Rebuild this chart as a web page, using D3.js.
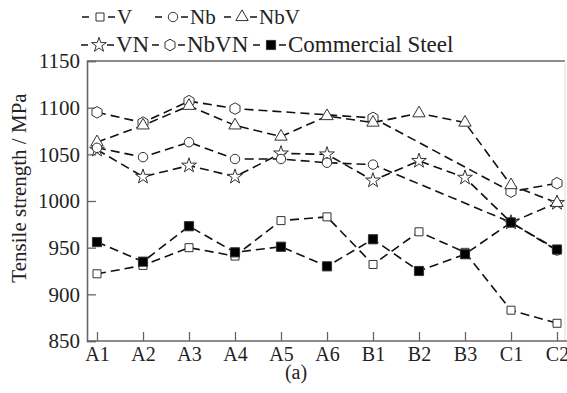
<!DOCTYPE html>
<html lang="en">
<head>
<meta charset="UTF-8">
<title>Tensile strength</title>
<script src="https://d3js.org/d3.v7.min.js"></script>
<style>
    body { margin: 0; background: #fff; }
    svg { display: block; font-family: "Liberation Serif", "DejaVu Serif", serif; }
</style>
</head>
<body>
<script>
// data
var categories = ["A1", "A2", "A3", "A4", "A5", "A6", "B1", "B2", "B3", "C1", "C2"];
var yTicks = [850, 900, 950, 1000, 1050, 1100, 1150];

var vValues      = [922, 931, 950, 941, 979, 983, 932, 967, 945, 883, 869];
var nbValues     = [1057, 1047, 1063, 1045, 1045, 1041, 1039, null, null, 977, 947];
var nbvValues    = [1063, 1081, 1102, 1081, 1069, 1091, 1084, 1094, 1084, 1017, 998];
var vnValues     = [1055, 1026, 1038, 1026, 1051, 1050, 1022, 1043, 1025, 977, 998];
var nbvnValues   = [1095, 1084, 1107, 1099, null, null, 1089, null, null, 1010, 1019];
var steelValues  = [956, 935, 973, 945, 951, 930, 959, 925, 943, 977, 948];

var series = [
    {name: "V", marker: "square", values: vValues},
    {name: "Nb", marker: "circle", values: nbValues},
    {name: "NbV", marker: "triangle", values: nbvValues},
    {name: "VN", marker: "star", values: vnValues},
    {name: "NbVN", marker: "hexagon", values: nbvnValues},
    {name: "Commercial Steel", marker: "filled", values: steelValues}
];
// order the markers are stacked in (last on top)
var drawOrder = ["VN", "NbVN", "NbV", "Nb", "V", "Commercial Steel"];

var W = 567, H = 393;
var pLeft = 87, pTop = 61, pBottom = 341, pRight = 567;

var svg = d3.select("body").append("svg")
    .attr("width", W)
    .attr("height", H);

var x = d3.scalePoint().domain(categories).range([97, 557]);
var y = d3.scaleLinear().domain([850, 1150]).range([pBottom, pTop]);

// marker drawing
function markerPath(type) {
    if (type === "square") return d3.symbol(d3.symbolSquare, 64)();
    if (type === "filled") return d3.symbol(d3.symbolSquare, 84)();
    if (type === "circle") return d3.symbol(d3.symbolCircle, 70)();
    if (type === "triangle") return d3.symbol(d3.symbolTriangle, 66)();
    if (type === "star") return d3.symbol(d3.symbolStar, 68)();
    // hexagon, pointy top
    var r = 5.8, pts = [];
    for (var k = 0; k < 6; k++) {
        var a = Math.PI / 2 + k * Math.PI / 3;
        pts.push([r * Math.cos(a), -r * Math.sin(a)]);
    }
    return "M" + pts.join("L") + "Z";
}

function drawMarker(g, type, cx, cy) {
    g.append("path")
        .attr("d", markerPath(type))
        .attr("transform", "translate(" + cx + "," + cy + ")")
        .attr("fill", type === "filled" ? "#000" : "#fff")
        .attr("stroke", "#333")
        .attr("stroke-width", 1);
}

// frame
var frame = svg.append("g");
frame.append("line").attr("x1", pLeft).attr("x2", 565).attr("y1", pTop).attr("y2", pTop)
    .attr("stroke", "#666").attr("stroke-width", 1.6);
frame.append("line").attr("x1", 565).attr("x2", 565).attr("y1", pTop).attr("y2", pBottom)
    .attr("stroke", "#ddd").attr("stroke-width", 1);

// y axis
var yAxis = d3.axisLeft(y).tickValues(yTicks).tickFormat(d3.format("d")).tickSize(-9);
var gy = svg.append("g").attr("transform", "translate(" + pLeft + ",0)").call(yAxis);
gy.attr("font-family", null);
gy.select(".domain").attr("stroke", "#666").attr("stroke-width", 1.6);
gy.selectAll(".tick line").attr("stroke", "#666").attr("stroke-width", 1.3);
gy.selectAll(".tick text")
    .attr("font-size", 21)
    .attr("fill", "#222")
    .attr("x", -7);

// x axis
var xAxis = d3.axisBottom(x).tickSize(-9);
var gx = svg.append("g").attr("transform", "translate(0," + pBottom + ")").call(xAxis);
gx.attr("font-family", null);
gx.select(".domain").attr("d", "M" + pLeft + ",0H" + pRight).attr("stroke", "#666").attr("stroke-width", 1.6);
gx.selectAll(".tick line").attr("stroke", "#666").attr("stroke-width", 1.3);
gx.selectAll(".tick text")
    .attr("font-size", 20)
    .attr("fill", "#222")
    .attr("y", 6)
    .attr("dy", "0.71em");

// axis title
svg.append("text")
    .attr("transform", "translate(26,188) rotate(-90)")
    .attr("text-anchor", "middle")
    .attr("font-size", 21)
    .attr("fill", "#222")
    .text("Tensile strength / MPa");

// caption
svg.append("text")
    .attr("x", 296).attr("y", 379)
    .attr("text-anchor", "middle")
    .attr("font-size", 20)
    .attr("fill", "#222")
    .text("(a)");

// lines
var line = d3.line()
    .x(function (d) { return x(d.cat); })
    .y(function (d) { return y(d.v); });

var lines = svg.append("g");
var marks = svg.append("g");

series.forEach(function (s) {
    var pts = categories.map(function (c, i) { return {cat: c, v: s.values[i]}; })
        .filter(function (d) { return d.v !== null; });
    s.pts = pts;
    lines.append("path")
        .attr("d", line(pts))
        .attr("fill", "none")
        .attr("stroke", "#111")
        .attr("stroke-width", 1.6)
        .attr("stroke-dasharray", "9,5");
});

drawOrder.forEach(function (name) {
    var s = series.find(function (d) { return d.name === name; });
    s.pts.forEach(function (d) {
        drawMarker(marks, s.marker, x(d.cat), y(d.v));
    });
});

// legend
var legendLayout = [
    {row: 0, x: 82, size: 21}, {row: 0, x: 155, size: 21}, {row: 0, x: 224, size: 21},
    {row: 1, x: 81, size: 23}, {row: 1, x: 152, size: 23}, {row: 1, x: 253, size: 23}
];
var rowBase = [24, 52];
var legend = svg.append("g");

series.forEach(function (s, i) {
    var L = legendLayout[i];
    var cy = rowBase[L.row] - 7;
    var g = legend.append("g");
    g.append("line").attr("x1", L.x).attr("x2", L.x + 7).attr("y1", cy).attr("y2", cy)
        .attr("stroke", "#111").attr("stroke-width", 1.5);
    drawMarker(g, s.marker, L.x + 18, cy);
    g.append("line").attr("x1", L.x + 26).attr("x2", L.x + 33).attr("y1", cy).attr("y2", cy)
        .attr("stroke", "#111").attr("stroke-width", 1.5);
    g.append("text")
        .attr("x", L.x + 35)
        .attr("y", rowBase[L.row])
        .attr("font-size", L.size)
        .attr("fill", "#222")
        .text(s.name);
});
</script>
</body>
</html>
